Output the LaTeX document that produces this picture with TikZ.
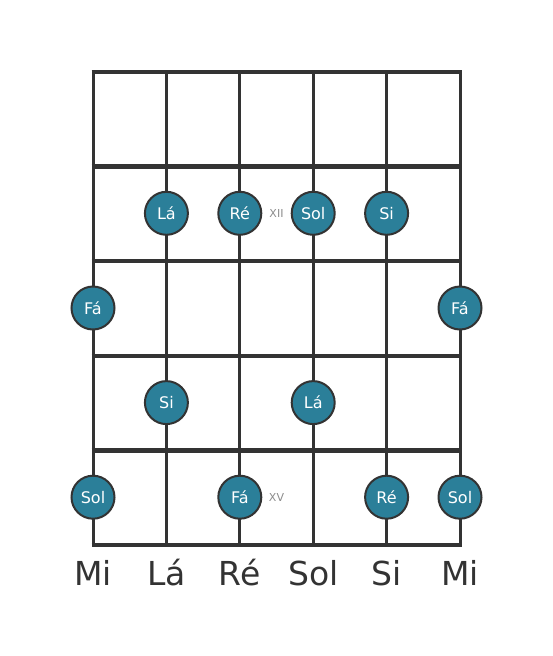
\documentclass[tikz,border=0pt]{standalone}
\usepackage{fontspec}
\setmainfont{DejaVu Sans}
\usetikzlibrary{positioning}
\usepackage{xcolor}
\definecolor{notefill}{HTML}{2B7F99}
\definecolor{wire}{HTML}{333333}

\begin{document}
\begin{tikzpicture}[x=1pt, y=-1pt,
	note/.style={circle, draw=wire, line width=2pt, fill=notefill, minimum size=43pt, inner sep=0pt, text=white, font=\fontsize{16}{16}\selectfont},
	fretmark/.style={text=gray!90, font=\fontsize{11}{11}\selectfont},
	stringname/.style={text=wire, font=\fontsize{33}{33}\selectfont}]
		\useasboundingbox (0,0) rectangle (553,656);

		% Draw strings
		\foreach \s/\x in {1/93, 2/166.4, 3/239.8, 4/313.2, 5/386.6, 6/460}
			\draw[wire, line width=3pt] (\x,72) -- (\x,545);
		% Draw frets
		\foreach \y in {72, 166.6, 261.2, 355.8, 450.4, 545}
			\draw[wire, line width=4.5pt] (91.5,\y) -- (461.5,\y);

		% Fret 12
		\node[note] (la12) at (166.4,213.3) {Lá};
		\node[note] (re12) at (239.8,213.3) {Ré};
		\node[note] (sol12) at (313.2,213.3) {Sol};
		\node[note] (si12) at (386.6,213.3) {Si};
		\node[fretmark] (xii) at (276.5,213.3) {XII};

		% Fret 13
		\node[note] (faA13) at (93,308) {Fá};
		\node[note] (faB13) at (460,308) {Fá};

		% Fret 14
		\node[note] (si14) at (166.4,402.6) {Si};
		\node[note] (la14) at (313.2,402.6) {Lá};

		% Fret 15
		\node[note] (solA15) at (93,497.2) {Sol};
		\node[note] (fa15) at (239.8,497.2) {Fá};
		\node[note] (re15) at (386.6,497.2) {Ré};
		\node[note] (solB15) at (460,497.2) {Sol};
		\node[fretmark] (xv) at (276.5,497.2) {XV};

		% Open strings
		\node[stringname] (mi1) at (93,573) {Mi};
		\node[stringname] (la0) at (166.4,573) {Lá};
		\node[stringname] (re0) at (239.8,573) {Ré};
		\node[stringname] (sol0) at (313.2,573) {Sol};
		\node[stringname] (si0) at (386.6,573) {Si};
		\node[stringname] (mi6) at (460,573) {Mi};
	\end{tikzpicture}
\end{document}
